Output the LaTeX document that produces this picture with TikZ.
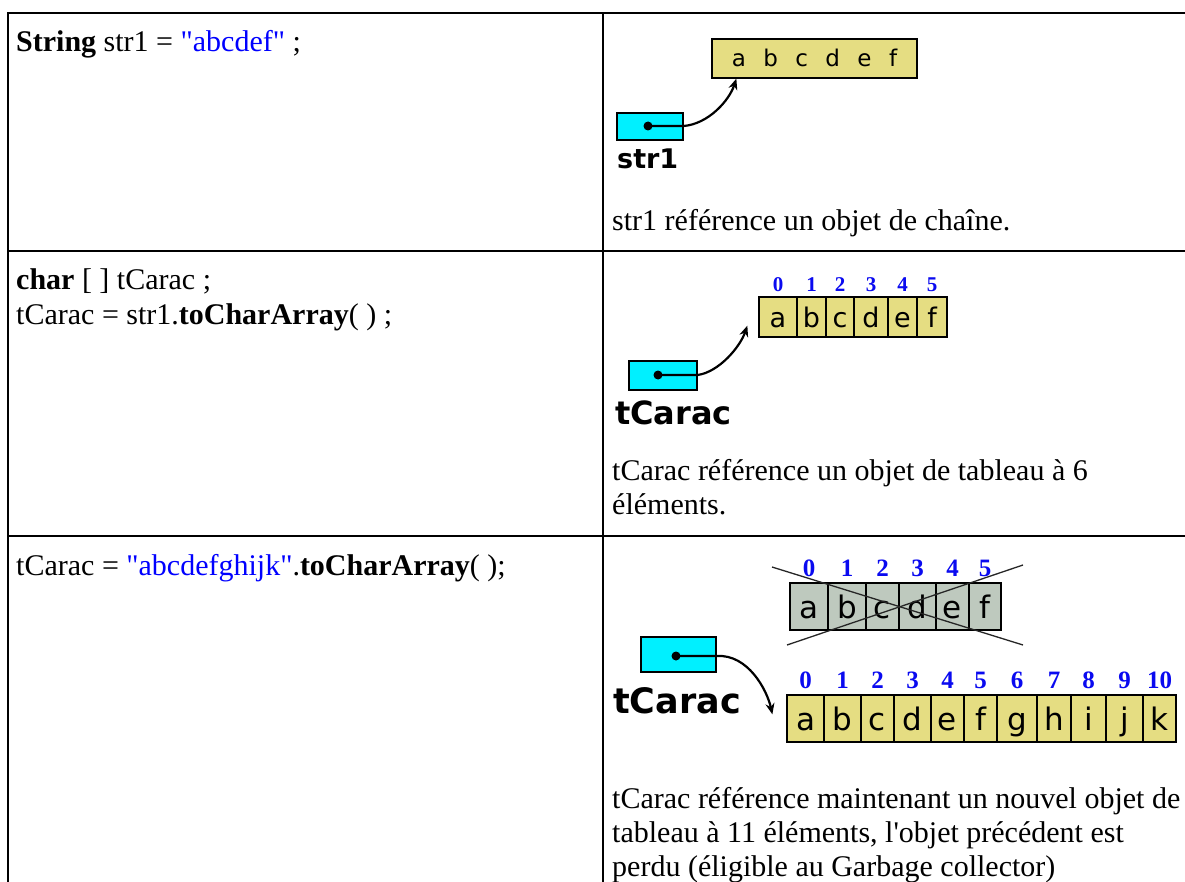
\documentclass[tikz,border=0pt]{standalone}
\usepackage{fontspec}
\setmainfont{Liberation Serif}
\newfontfamily\diagfont{DejaVu Sans}
\usetikzlibrary{arrows.meta}
% straight quote marks, kept out of the TeX quote ligatures
\newcommand\sglquote{\XeTeXglyph\XeTeXcharglyph"27\relax}
\newcommand\dblquote{\XeTeXglyph\XeTeXcharglyph"22\relax}

\definecolor{refcyan}{RGB}{0,240,255}
\definecolor{cellyellow}{RGB}{229,221,130}
\definecolor{cellgray}{RGB}{190,201,190}
\definecolor{codeblue}{RGB}{0,0,255}
\definecolor{idxblue}{RGB}{10,10,240}

\tikzset{
  rule/.style={line width=2.2pt},
  txt/.style={anchor=base west, inner sep=0pt, font=\fontsize{30}{34}\selectfont},
  refbox/.style={draw, line width=1.3pt, fill=refcyan, inner sep=0pt},
  varname/.style={anchor=base west, inner sep=0pt, font=\diagfont\bfseries\fontsize{#1}{#1}\selectfont},
  cellbase/.style={draw, line width=1.3pt, inner sep=0pt, text depth=0pt},
  cellsmall/.style={cellbase, fill=cellyellow, minimum height=40pt, text height=20pt,
    font=\diagfont\fontsize{27}{27}\selectfont},
  cellbig/.style={cellbase, fill=#1, minimum height=47pt, text height=24pt,
    font=\diagfont\fontsize{31}{31}\selectfont},
  idx/.style={inner sep=0pt, text=idxblue, font=\bfseries\fontsize{#1}{#1}\selectfont},
  refline/.style={line width=2.2pt, -{Stealth[length=11pt,width=9pt]}},
  dot/.style={circle, fill=black, inner sep=0pt, minimum size=9pt},
  strike/.style={line width=1.3pt, black!85},
}

\begin{document}
\begin{tikzpicture}[x=1pt,y=-1pt]
\useasboundingbox (0,0) rectangle (1185,882);
\fill[white] (0,0) rectangle (1185,882);

% ---------- table rules ----------
\draw[rule] (8,882) -- (8,13) -- (1185,13);
\draw[rule] (603,13) -- (603,882);
\draw[rule] (8,251) -- (1185,251);
\draw[rule] (8,536) -- (1185,536);

% ---------- row 1 ----------
\node[txt] (code1) at (16,52) {\textbf{String} str1 = \textcolor{codeblue}{\dblquote abcdef\dblquote} ;};

\node[cellbase, fill=cellyellow, minimum width=205pt, minimum height=39pt, text height=17pt,
      font=\diagfont\fontsize{23}{23}\selectfont] (strobj) at (814.5,58.5)
      {\spaceskip=17.4pt a b c d e f};
\node[refbox, minimum width=66pt, minimum height=27pt] (str1box) at (650,126.5) {};
\node[dot] (str1dot) at (648,126) {};
\node[varname=27] (str1lbl) at (617,169) {str1};
\draw[refline] (str1dot.center) -- (str1dot -| str1box.east)
  .. controls (708,124) and (729,101) .. ([xshift=25pt]strobj.south west);

\node[txt] (cap1) at (612,231) {str1 référence un objet de chaîne.};

% ---------- row 2 ----------
\node[txt] (code2a) at (16,290) {\textbf{char} [ ] tCarac ;};
\node[txt] (code2b) at (16,324) {tCarac = str1.\textbf{toCharArray}( ) ;};

\foreach \l/\a/\b [count=\i from 0] in
  {a/759/797, b/797/826, c/826/854, d/854/888, e/888/917, f/917/947} {
  \node[cellsmall, minimum width={\b-\a}] (arr\i) at ({(\a+\b)/2},317) {\l};
  \node[idx=21] (arridx\i) at ({(\a+\b)/2},285) {\i};
}
\node[refbox, minimum width=68pt, minimum height=29pt] (tc2box) at (663,375.5) {};
\node[dot] (tc2dot) at (658,375) {};
\node[varname=32] (tc2lbl) at (615,424) {tCarac};
\draw[refline] (tc2dot.center) -- (tc2dot -| tc2box.east)
  .. controls (719,372) and (740,347) .. ([xshift=-11pt,yshift=12pt]arr0.south west);

\node[txt] (cap2a) at (612,480) {tCarac référence un objet de tableau à 6};
\node[txt] (cap2b) at (612,514) {éléments.};

% ---------- row 3 ----------
\node[txt] (code3) at (16,575) {tCarac = \textcolor{codeblue}{\dblquote abcdefghijk\dblquote}.\textbf{toCharArray}( );};

% discarded array
\foreach \l/\a/\b [count=\i from 0] in
  {a/790/828, b/828/866, c/866/899, d/899/936, e/936/969, f/969/1001} {
  \node[cellbig=cellgray, minimum width={\b-\a}] (old\i) at ({(\a+\b)/2},606.5) {\l};
  \node[idx=25] (oldidx\i) at ({(\a+\b)/2},568) {\i};
}
\draw[strike] (772,567) -- (1023,645);
\draw[strike] (787,645) -- (1023,565);

% new array
\foreach \l/\a/\b [count=\i from 0] in
  {a/787/824, b/824/861, c/861/894, d/894/931, e/931/964, f/964/997,
   g/997/1037, h/1037/1071, i/1071/1106, j/1106/1143, k/1143/1176} {
  \node[cellbig=cellyellow, minimum width={\b-\a}] (new\i) at ({(\a+\b)/2},718.5) {\l};
  \node[idx=25] (newidx\i) at ({(\a+\b)/2},680) {\i};
}
\node[refbox, minimum width=75pt, minimum height=35pt] (tc3box) at (678.5,654.5) {};
\node[dot] (tc3dot) at (676,656) {};
\node[varname=35] (tc3lbl) at (613,713) {tCarac};
\draw[refline] (tc3dot.center) -- (tc3dot -| tc3box.east)
  .. controls (748,654) and (767,690) .. ([xshift=-14pt,yshift=-20pt]new0.north west);

\node[txt] (cap3a) at (612,808) {tCarac référence maintenant un nouvel objet de};
\node[txt] (cap3b) at (612,842) {tableau à 11 éléments, l\sglquote objet précédent est};
\node[txt] (cap3c) at (612,876) {perdu (éligible au Garbage collector)};
\end{tikzpicture}
\end{document}
